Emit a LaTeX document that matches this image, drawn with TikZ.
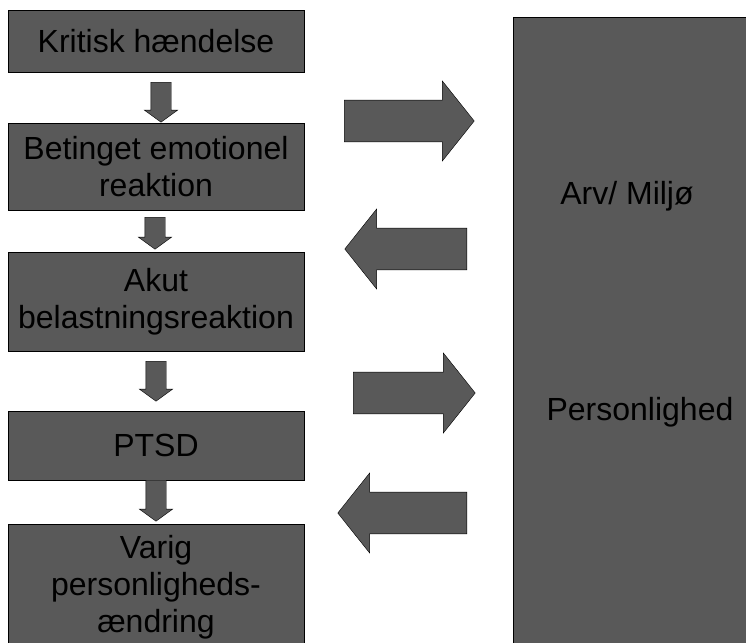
\documentclass[tikz,border=0pt]{standalone}
\usepackage{fontspec}
\setmainfont{Liberation Sans}
\usetikzlibrary{shapes.arrows}

\begin{document}
\begin{tikzpicture}[x=1pt, y=-1pt, every node/.style={inner sep=0pt, font=\fontsize{32}{37}\selectfont},
  box/.style={draw=black, fill=black!65, align=center, minimum width=296pt},
  fat/.style={single arrow, anchor=tail, draw=black, fill=black!65, inner ysep=20.5pt, minimum width=80pt, single arrow head extend=19pt, single arrow tip angle=103},
  slim/.style={single arrow, anchor=tail, draw=black, fill=black!65, rotate=-90, inner ysep=10pt, minimum width=33pt, single arrow head extend=6.5pt, single arrow tip angle=108}]
  \useasboundingbox (0,0) rectangle (746,642);
  \clip (0,0) rectangle (746,642);
  \node[box, minimum height=62pt] (1) at (156,41) {Kritisk hændelse};
  \node[box, minimum height=87pt] (2) at (156,166.5) {Betinget emotionel\\reaktion};
  \node[box, minimum height=99pt] (3) at (156,301.5) {Akut\\belastningsreaktion};
  \node[box, minimum height=69pt] (4) at (156,445.5) {PTSD};
  \node[box, minimum height=126pt] (5) at (156,587) {Varig\\personligheds-\\ændring};
  \node[box, minimum width=247pt, minimum height=643pt] (6) at (636.5,338.5) {};
  \node (arv) at (627,196) {Arv/ Miljø};
  \node (pers) at (640,412) {Personlighed};
  \node[slim, minimum height=40pt] (d1) at (161,82) {};
  \node[slim, minimum height=32pt] (d2) at (155,217) {};
  \node[slim, minimum height=40pt] (d3) at (156,361) {};
  \node[slim, minimum height=41pt] (d4) at (156,480) {};
  \node[fat, minimum height=130pt] (r1) at (344,121) {};
  \node[fat, minimum height=122pt, rotate=180] (l1) at (467,249) {};
  \node[fat, minimum height=122pt] (r2) at (353,393) {};
  \node[fat, minimum height=129pt, rotate=180] (l2) at (467,513) {};
\end{tikzpicture}
\end{document}
